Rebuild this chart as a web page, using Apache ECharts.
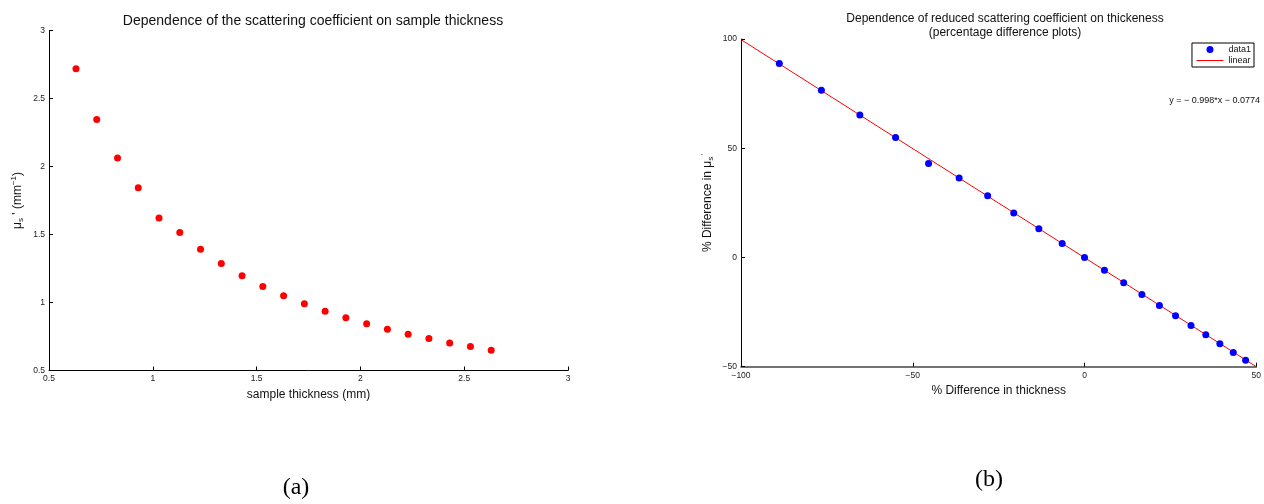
<!DOCTYPE html>
<html>
<head>
<meta charset="utf-8">
<script src="https://cdn.jsdelivr.net/npm/echarts@6/dist/echarts.min.js"></script>
<style>
  html, body { margin: 0; padding: 0; background: #fff; }
  #chart { width: 1264px; height: 504px; }
</style>
</head>
<body>
<div id="chart"></div>
<script>
// (a) reduced scattering coefficient versus sample thickness
const thicknessMm = [0.63, 0.73, 0.83, 0.93, 1.03, 1.13, 1.23, 1.33, 1.43, 1.53, 1.63,
                     1.73, 1.83, 1.93, 2.03, 2.13, 2.23, 2.33, 2.43, 2.53, 2.63];
const scatteringCoeff = [2.718, 2.346, 2.063, 1.843, 1.622, 1.515, 1.392, 1.287, 1.196, 1.118, 1.049,
                         0.990, 0.936, 0.887, 0.843, 0.804, 0.767, 0.735, 0.703, 0.676, 0.649];

// (b) percentage differences and their linear fit
const thicknessDiffPct = [-88.85, -76.6, -65.4, -55.0, -45.4, -36.5, -28.2, -20.6, -13.3, -6.5, 0,
                          5.8, 11.4, 16.7, 21.8, 26.5, 31.0, 35.3, 39.4, 43.3, 46.9];
const coeffDiffPct = [88.75, 76.5, 65.2, 54.9, 43.0, 36.4, 28.2, 20.4, 13.1, 6.4, 0,
                      -5.9, -11.6, -16.9, -22.0, -26.7, -31.1, -35.4, -39.5, -43.5, -47.1];
const fitSlope = -0.998;
const fitIntercept = -0.0774;
const fitRange = [-100, 50];

const leftTicks = { min: 0.5, max: 3, interval: 0.5 };
const rightXTicks = { min: -100, max: 50, interval: 50 };
const rightYTicks = { min: -50, max: 100, interval: 50 };

const FONT = 'Liberation Sans';
const minus = v => String(v).replace('-', '\u2212');

const scatterPoints = thicknessMm.map((x, i) => [x, scatteringCoeff[i]]);
const diffPoints = thicknessDiffPct.map((x, i) => [x, coeffDiffPct[i]]);
const fitLine = fitRange.map(x => [x, fitSlope * x + fitIntercept]);
const fitText = 'y = \u2212 ' + Math.abs(fitSlope) + '*x \u2212 ' + Math.abs(fitIntercept);

const axisCommon = {
  axisLine: { show: true, onZero: false, lineStyle: { color: '#000', width: 1 } },
  axisTick: { show: true, inside: true, length: 4, lineStyle: { color: '#000' } },
  splitLine: { show: false },
  axisLabel: { fontFamily: FONT, fontSize: 8.5, color: '#222', margin: 4 },
  nameTextStyle: { fontFamily: FONT, fontSize: 12, color: '#111' }
};

const richName = {
  n: { fontFamily: FONT, fontSize: 12, color: '#111', lineHeight: 15 },
  sub: { fontFamily: FONT, fontSize: 8, color: '#111', lineHeight: 15, verticalAlign: 'bottom' },
  sup: { fontFamily: FONT, fontSize: 8, color: '#111', lineHeight: 15, verticalAlign: 'top' }
};

const chart = echarts.init(document.getElementById('chart'), null, { renderer: 'canvas' });

chart.setOption({
  animation: false,
  backgroundColor: '#fff',
  title: [
    {
      text: 'Dependence of the scattering coefficient on sample thickness',
      left: 308, top: 9, textAlign: 'center',
      textStyle: { fontFamily: FONT, fontSize: 14, fontWeight: 'normal', color: '#111' }
    },
    {
      text: 'Dependence of reduced scattering coefficient on thickeness\n(percentage difference plots)',
      left: 1000, top: 7, textAlign: 'center',
      textStyle: { fontFamily: FONT, fontSize: 12, fontWeight: 'normal', color: '#111', lineHeight: 13.5 }
    }
  ],
  legend: {
    orient: 'vertical',
    right: 10, top: 43,
    borderColor: '#000', borderWidth: 1,
    padding: [2, 3, 2, 4],
    itemGap: 2,
    itemWidth: 27, itemHeight: 7,
    textStyle: { fontFamily: FONT, fontSize: 9, color: '#111' },
    data: [
      { name: 'data1' },
      { name: 'linear', itemStyle: { opacity: 0 }, lineStyle: { width: 1 } }
    ]
  },
  grid: [
    { left: 49, top: 30.5, width: 519, height: 340, containLabel: false },
    { left: 741, top: 39, width: 517.5, height: 327.7, containLabel: false }
  ],
  xAxis: [
    Object.assign({}, axisCommon, {
      gridIndex: 0, type: 'value', ...leftTicks,
      name: 'sample thickness (mm)', nameLocation: 'middle', nameGap: 16
    }),
    Object.assign({}, axisCommon, {
      gridIndex: 1, type: 'value', ...rightXTicks,
      axisLine: { show: true, onZero: false, lineStyle: { color: '#444', width: 1.6 } },
      axisLabel: Object.assign({}, axisCommon.axisLabel, { formatter: minus }),
      name: '% Difference in thickness', nameLocation: 'middle', nameGap: 15
    })
  ],
  yAxis: [
    Object.assign({}, axisCommon, {
      gridIndex: 0, type: 'value', ...leftTicks,
      name: '{n|\u03bc}{sub|s}{n| \' (mm}{sup|\u22121}{n|)}',
      nameLocation: 'middle', nameGap: 24, nameRotate: 90,
      nameTextStyle: { rich: richName }
    }),
    Object.assign({}, axisCommon, {
      gridIndex: 1, type: 'value', ...rightYTicks,
      axisLabel: Object.assign({}, axisCommon.axisLabel, { formatter: minus }),
      name: '{n|% Difference in \u03bc}{sub|s}{sup|\u2009\'}',
      nameLocation: 'middle', nameGap: 26, nameRotate: 90,
      nameTextStyle: { rich: richName }
    })
  ],
  series: [
    {
      type: 'scatter', xAxisIndex: 0, yAxisIndex: 0,
      data: scatterPoints, symbol: 'circle', symbolSize: 7,
      itemStyle: { color: '#ff0000', opacity: 1 }
    },
    {
      name: 'data1', type: 'scatter', xAxisIndex: 1, yAxisIndex: 1,
      data: diffPoints, symbol: 'circle', symbolSize: 7,
      itemStyle: { color: '#0000ff', opacity: 1 }
    },
    {
      name: 'linear', type: 'line', xAxisIndex: 1, yAxisIndex: 1,
      data: fitLine, symbol: 'none', z: 1,
      lineStyle: { color: '#ff0000', width: 1 }
    }
  ],
  graphic: [
    {
      type: 'text', right: 4, top: 96,
      style: { text: fitText, fontFamily: FONT, fontSize: 9, fill: '#111' }
    },
    {
      type: 'text', x: 296, y: 488,
      style: { text: '(a)', fontFamily: 'Liberation Serif', fontSize: 24, fill: '#000',
               align: 'center', verticalAlign: 'middle' }
    },
    {
      type: 'text', x: 989, y: 480,
      style: { text: '(b)', fontFamily: 'Liberation Serif', fontSize: 24, fill: '#000',
               align: 'center', verticalAlign: 'middle' }
    }
  ]
});
</script>
</body>
</html>
